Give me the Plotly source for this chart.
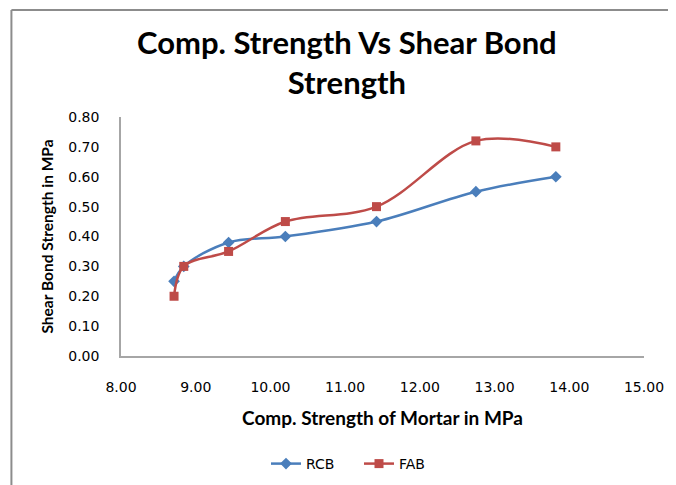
import plotly.graph_objects as go

comp_strength = [8.71, 8.84, 9.44, 10.20, 11.42, 12.75, 13.82]
rcb = [0.25, 0.30, 0.38, 0.40, 0.45, 0.55, 0.60]
fab = [0.20, 0.30, 0.35, 0.45, 0.50, 0.72, 0.70]
x_ticks = [8, 9, 10, 11, 12, 13, 14, 15]
y_ticks = [0, 0.1, 0.2, 0.3, 0.4, 0.5, 0.6, 0.7, 0.8]

TICK_FONT = "DejaVu Sans"
BOLD_FONT = "Lato"

fig = go.Figure()
fig.add_trace(go.Scatter(
    x=comp_strength, y=rcb, name="RCB", mode="lines+markers",
    line=dict(color="#4A7EBB", width=2.5, shape="spline", smoothing=1),
    marker=dict(symbol="diamond", size=9, color="#4A7EBB"),
))
fig.add_trace(go.Scatter(
    x=comp_strength, y=fab, name="FAB", mode="lines+markers",
    line=dict(color="#BE4B48", width=2.5, shape="spline", smoothing=1),
    marker=dict(symbol="square", size=9, color="#BE4B48"),
))

# page has an 8px body margin; plot area on page: x 121..646, y 117..356
OFF = 8
W, H = 668, 477
PW, PH = 525.0, 239.0
def px_x(p):
    return (p - 121) / PW
def px_y(p):
    return (356 - p) / PH

fig.update_layout(
    width=W, height=H,
    margin=dict(l=121 - OFF, r=676 - 646, t=117 - OFF, b=OFF + H - 356),
    paper_bgcolor="white", plot_bgcolor="white",
    font=dict(family=TICK_FONT, color="#000000", size=13),
    showlegend=True,
    legend=dict(orientation="h", x=(266 - OFF) / W, xanchor="left", xref="container",
                y=(OFF + H - 464) / H, yanchor="middle", yref="container",
                entrywidth=48, entrywidthmode="pixels",
                font=dict(size=14, family=TICK_FONT)),
    annotations=[dict(
        text="<b>Comp. Strength Vs Shear Bond<br>Strength</b>",
        xref="paper", yref="paper", x=px_x(348), y=px_y(62),
        xanchor="center", yanchor="middle", showarrow=False,
        font=dict(size=31, family=BOLD_FONT, color="#000000"),
    )],
    shapes=[
        dict(type="line", xref="paper", yref="paper",
             x0=px_x(11), x1=px_x(690), y0=px_y(10), y1=px_y(10),
             line=dict(color="#8C8C8C", width=2)),
        dict(type="line", xref="paper", yref="paper",
             x0=px_x(11), x1=px_x(11), y0=px_y(10), y1=px_y(500),
             line=dict(color="#8C8C8C", width=2)),
    ],
)

fig.update_xaxes(
    range=[8, 15], tickvals=x_ticks, ticktext=[f"{v:.2f}" for v in x_ticks],
    showgrid=False, zeroline=False, showline=True, linecolor="#A6A6A6", linewidth=1.5,
    ticks="", ticklabelstandoff=17, tickfont=dict(size=14, family=TICK_FONT),
    title=dict(text="<b>Comp. Strength of Mortar in MPa</b>", font=dict(size=19, family=BOLD_FONT), standoff=18),
)
fig.update_yaxes(
    range=[0, 0.8], tickvals=y_ticks, ticktext=[f"{v:.2f}" for v in y_ticks],
    showgrid=False, zeroline=False, showline=True, linecolor="#A6A6A6", linewidth=1.5,
    ticks="", ticklabelstandoff=17, tickfont=dict(size=14, family=TICK_FONT),
    title=dict(text="<b>Shear Bond Strength in MPa</b>", font=dict(size=15.5, family=BOLD_FONT), standoff=11),
)

fig.write_html("out.html")
